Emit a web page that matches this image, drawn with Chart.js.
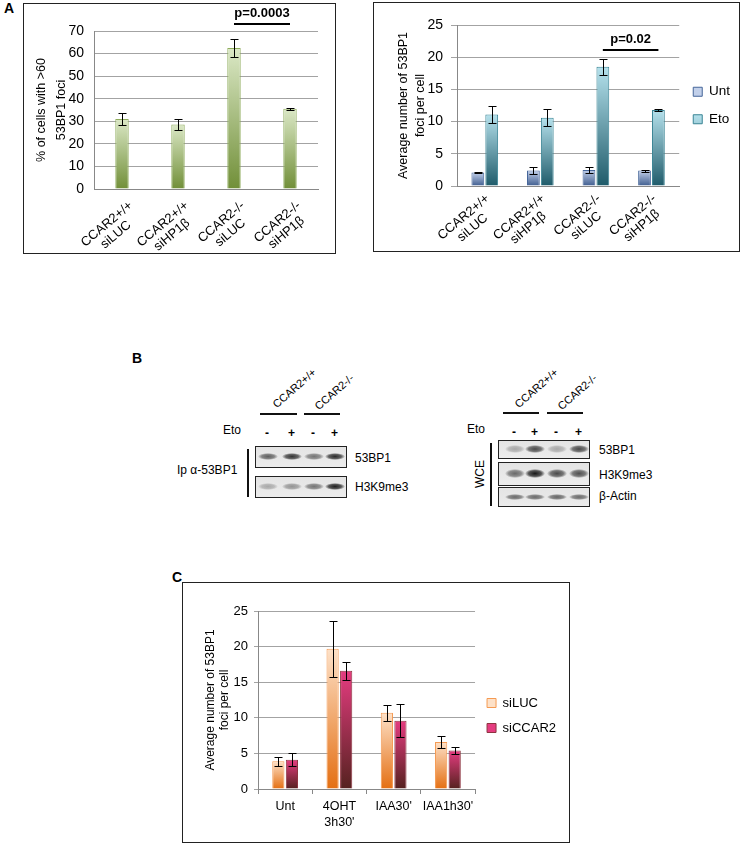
<!DOCTYPE html>
<html>
<head>
<meta charset="utf-8">
<script src="https://cdn.jsdelivr.net/npm/chart.js@4.4.1/dist/chart.umd.min.js"></script>
<style>
  body { margin: 0; width: 741px; height: 844px; background: #fff; position: relative; overflow: hidden;
         font-family: 'Liberation Sans', Arial, sans-serif; color: #000; }
  .abs { position: absolute; }
  .box { position: absolute; border: 1.5px solid #222; box-sizing: border-box; }
  .lbl { position: absolute; font-size: 12px; white-space: nowrap; line-height: 1; }
  .panel { position: absolute; font-weight: bold; font-size: 14px; }
  .rot { position: absolute; font-size: 11px; white-space: nowrap; line-height: 1;
         transform: rotate(-41deg); transform-origin: 0 100%; }
  .blot { position: absolute; border: 1.5px solid #222; box-sizing: border-box;
          background: linear-gradient(#e4e4e4, #ececec); overflow: hidden; }
  .band { position: absolute; border-radius: 50%; }
  .hline { position: absolute; height: 1.5px; background: #111; }
  .vline { position: absolute; width: 1.5px; background: #111; }
</style>
</head>
<body>
<div class="panel" style="left:4px;top:0px;">A</div>
<div class="panel" style="left:132px;top:350px;">B</div>
<div class="panel" style="left:172px;top:569px;">C</div>

<div class="box" style="left:23px;top:3px;width:313px;height:251px;"></div>
<canvas id="c1" class="abs" style="left:23px;top:3px;" width="313" height="251"></canvas>

<div class="box" style="left:373px;top:2px;width:367px;height:250px;"></div>
<canvas id="c2" class="abs" style="left:373px;top:2px;" width="367" height="250"></canvas>

<div class="box" style="left:182px;top:582px;width:388px;height:261px;"></div>
<canvas id="c3" class="abs" style="left:182px;top:582px;" width="388" height="261"></canvas>

<div id="blots"></div>

<script>
// ---- panel A, left: % of cells with >60 53BP1 foci
const groupsA = [['CCAR2+/+', 'siLUC'], ['CCAR2+/+', 'siHP1β'], ['CCAR2-/-', 'siLUC'], ['CCAR2-/-', 'siHP1β']];
const pctCells = [31, 28.6, 62.5, 35.5];
const pctCellsErr = [2.6, 2.3, 4.1, 0.5];

// ---- panel A, right: average foci per cell
const untFoci = [2.1, 2.4, 2.5, 2.4];
const untFociErr = [0.15, 0.5, 0.45, 0.15];
const etoFoci = [11.1, 10.6, 18.5, 11.8];
const etoFociErr = [1.3, 1.3, 1.2, 0.15];

// ---- panel C
const groupsC = ['Unt', ['4OHT', "3h30'"], "IAA30'", "IAA1h30'"];
const siLUC = [3.9, 19.7, 10.7, 6.6];
const siLUCErr = [0.6, 3.9, 1.1, 0.8];
const siCCAR2 = [4.1, 16.6, 9.6, 5.4];
const siCCAR2Err = [0.9, 1.3, 2.3, 0.5];

// ---- panel B band intensities (lanes: -, +, -, +)
const ip53bp1 = [0.65, 0.85, 0.55, 0.9];
const ipH3k9 = [0.3, 0.4, 0.55, 0.95];
const wce53bp1 = [0.3, 0.75, 0.3, 0.75];
const wceH3k9 = [0.6, 0.98, 0.75, 0.72];
const wceActin = [0.6, 0.6, 0.62, 0.6];

Chart.defaults.font.family = "'Liberation Sans', Arial, sans-serif";
Chart.defaults.color = '#000';

// gradient from the top of each bar down to its base
function barGrad(top, bottom, flat) {
  return (ctx) => {
    if (ctx.type !== 'data') return flat;
    const chart = ctx.chart, y = chart.scales.y;
    const v = ctx.parsed ? ctx.parsed.y : ctx.raw;
    const y0 = y.getPixelForValue(v), y1 = y.getPixelForValue(0);
    if (!isFinite(y0) || !isFinite(y1) || y0 === y1) return flat;
    const g = chart.ctx.createLinearGradient(0, y0, 0, y1);
    g.addColorStop(0, top);
    g.addColorStop(1, bottom);
    return g;
  };
}

const errorBars = {
  id: 'errorBars',
  afterDatasetsDraw(chart) {
    const c = chart.ctx, y = chart.scales.y;
    c.save();
    c.strokeStyle = '#000';
    c.lineWidth = 1;
    chart.data.datasets.forEach((ds, di) => {
      if (!ds.errors) return;
      chart.getDatasetMeta(di).data.forEach((bar, i) => {
        const v = ds.data[i], e = ds.errors[i];
        const x = Math.round(bar.x) + 0.5;
        const yt = Math.round(y.getPixelForValue(v + e)) + 0.5;
        const yb = Math.round(y.getPixelForValue(v - e)) + 0.5;
        const w = 4;
        c.beginPath();
        c.moveTo(x, yt); c.lineTo(x, yb);
        c.moveTo(x - w, yt); c.lineTo(x + w, yt);
        c.moveTo(x - w, yb); c.lineTo(x + w, yb);
        c.stroke();
      });
    });
    c.restore();
  }
};

const pBar = {
  id: 'pBar',
  afterDraw(chart, args, opts) {
    if (!opts || !opts.text) return;
    const meta = chart.getDatasetMeta(opts.dataset || 0);
    const x0 = meta.data[opts.from].x, x1 = meta.data[opts.to].x;
    const yy = chart.scales.y.getPixelForValue(opts.value);
    const c = chart.ctx;
    c.save();
    c.strokeStyle = '#000';
    c.lineWidth = 2;
    c.beginPath(); c.moveTo(x0, yy); c.lineTo(x1, yy); c.stroke();
    c.font = 'bold 13px "Liberation Sans", Arial, sans-serif';
    c.fillStyle = '#000';
    c.textAlign = 'center';
    c.textBaseline = 'bottom';
    c.fillText(opts.text, (x0 + x1) / 2, yy - 4);
    c.restore();
  }
};

// slanted two-line category labels, lines centred on each other like Excel does
const slantLabels = {
  id: 'slantLabels',
  afterDraw(chart, args, opts) {
    if (!opts || !opts.angle) return;
    const xs = chart.scales.x, c = chart.ctx;
    c.save();
    c.font = `${opts.size}px 'Liberation Sans', Arial, sans-serif`;
    c.fillStyle = '#000';
    c.textAlign = 'center';
    c.textBaseline = 'middle';
    chart.data.labels.forEach((lines, i) => {
      const w = Math.max(...lines.map(t => c.measureText(t).width));
      c.save();
      c.translate(xs.getPixelForTick(i) + opts.dx, xs.top + opts.dy);
      c.rotate(-opts.angle * Math.PI / 180);
      lines.forEach((t, j) => c.fillText(t, -w / 2, j * opts.lineHeight));
      c.restore();
    });
    c.restore();
  }
};

const gridGray = '#a3a3a3';

new Chart(document.getElementById('c1'), {
  type: 'bar',
  data: {
    labels: groupsA,
    datasets: [{
      data: pctCells,
      errors: pctCellsErr,
      backgroundColor: barGrad('#dbe8c6', '#718f38', '#a8c47a'),
      borderColor: '#8fac5c',
      borderWidth: 1,
      barPercentage: 0.24,
      categoryPercentage: 1
    }]
  },
  options: {
    responsive: false,
    animation: false,
    layout: { padding: { top: 28, right: 18, left: 0, bottom: 0 } },
    plugins: {
      legend: { display: false },
      tooltip: { enabled: false },
      pBar: { from: 2, to: 3, value: 73.1, text: 'p=0.0003' },
      slantLabels: { angle: 40, size: 13, dx: 9, dy: 15, lineHeight: 14 }
    },
    scales: {
      x: {
        grid: { drawOnChartArea: false, drawTicks: false },
        border: { color: '#888' },
        ticks: { display: false },
        afterFit: s => { s.height = 65; }
      },
      y: {
        min: 0, max: 70,
        ticks: { stepSize: 10, font: { size: 14 }, padding: 10 },
        grid: { color: gridGray, drawTicks: false },
        border: { color: '#888' },
        title: { display: true, text: ['% of cells with >60', '53BP1 foci'],
                 font: { size: 12.5, lineHeight: 1.55 }, padding: { top: 9, bottom: 0 } },
        afterFit: s => { s.width = 71; }
      }
    }
  },
  plugins: [errorBars, pBar, slantLabels]
});

new Chart(document.getElementById('c2'), {
  type: 'bar',
  data: {
    labels: groupsA,
    datasets: [{
      label: 'Unt',
      data: untFoci,
      errors: untFociErr,
      backgroundColor: barGrad('#c2d0ea', '#3f5d8f', '#7f97c4'),
      borderColor: '#46669a',
      borderWidth: 1,
      barPercentage: 0.92,
      categoryPercentage: 0.5
    }, {
      label: 'Eto',
      data: etoFoci,
      errors: etoFociErr,
      backgroundColor: barGrad('#b5e1ec', '#1f5b6a', '#8ccbdb'),
      borderColor: '#3a8595',
      borderWidth: 1,
      barPercentage: 0.92,
      categoryPercentage: 0.5
    }]
  },
  options: {
    responsive: false,
    animation: false,
    layout: { padding: { top: 23, right: 0, left: 0, bottom: 0 } },
    plugins: {
      legend: {
        position: 'right',
        align: 'start',
        title: { display: true, text: ' ', padding: 0, font: { size: 10, lineHeight: 4.6 } },
        labels: { boxWidth: 9, boxHeight: 9, font: { size: 13.5 }, padding: 14 }
      },
      tooltip: { enabled: false },
      pBar: { dataset: 1, from: 2, to: 3, value: 21.1, text: 'p=0.02' },
      slantLabels: { angle: 40, size: 13, dx: 3, dy: 11, lineHeight: 14 }
    },
    scales: {
      x: {
        grid: { drawOnChartArea: false, drawTicks: false },
        border: { color: '#888' },
        ticks: { display: false },
        afterFit: s => { s.height = 66; }
      },
      y: {
        min: 0, max: 25,
        ticks: { stepSize: 5, font: { size: 14 }, padding: 8 },
        grid: { color: gridGray, tickLength: 6 },
        border: { color: '#888' },
        title: { display: true, text: ['Average number of 53BP1', 'foci per cell'],
                 font: { size: 12.5, lineHeight: 1.35 }, padding: { top: 22, bottom: 0 } },
        afterFit: s => { s.width = 84; }
      }
    }
  },
  plugins: [errorBars, pBar, slantLabels]
});

new Chart(document.getElementById('c3'), {
  type: 'bar',
  data: {
    labels: groupsC,
    datasets: [{
      label: 'siLUC',
      data: siLUC,
      errors: siLUCErr,
      backgroundColor: barGrad('#fde1c8', '#e46f12', '#f8b47a'),
      borderColor: '#f59a52',
      borderWidth: 1,
      barPercentage: 0.9,
      categoryPercentage: 0.5
    }, {
      label: 'siCCAR2',
      data: siCCAR2,
      errors: siCCAR2Err,
      backgroundColor: barGrad('#e53c80', '#55221f', '#a23048'),
      borderColor: '#8e3440',
      borderWidth: 1,
      barPercentage: 0.9,
      categoryPercentage: 0.5
    }]
  },
  options: {
    responsive: false,
    animation: false,
    layout: { padding: { top: 29, right: 4, left: 0, bottom: 0 } },
    plugins: {
      legend: {
        position: 'right',
        align: 'start',
        title: { display: true, text: ' ', padding: 0, font: { size: 10, lineHeight: 7.35 } },
        labels: { boxWidth: 9, boxHeight: 9, font: { size: 13 }, padding: 12 }
      },
      tooltip: { enabled: false }
    },
    scales: {
      x: {
        grid: { offset: true, drawOnChartArea: false, drawTicks: true, tickLength: 5, color: '#888' },
        border: { color: '#888' },
        ticks: { maxRotation: 0, autoSkip: false, font: { size: 12.5, lineHeight: 1.3 }, padding: 4 },
        afterFit: s => { s.height = 54; }
      },
      y: {
        min: 0, max: 25,
        ticks: { stepSize: 5, font: { size: 13 }, padding: 6 },
        grid: { color: gridGray, tickLength: 4 },
        border: { color: '#888' },
        title: { display: true, text: ['Average number of 53BP1', 'foci per cell'],
                 font: { size: 12, lineHeight: 1.15 }, padding: { top: 22, bottom: 0 } },
        afterFit: s => { s.width = 76; }
      }
    }
  },
  plugins: [errorBars]
});

// ---- panel B western blots (decorative, built from the intensity lists)
const host = document.getElementById('blots');
function el(cls, style, text) {
  const d = document.createElement('div');
  d.className = cls;
  d.setAttribute('style', style);
  if (text) d.textContent = text;
  host.appendChild(d);
  return d;
}
function blotRow(x, y, w, h, lanes, vals, bandH) {
  const b = el('blot', `left:${x}px;top:${y}px;width:${w}px;height:${h}px;`);
  vals.forEach((a, i) => {
    const band = document.createElement('div');
    band.className = 'band';
    const bw = 20, bh = bandH || 7;
    band.setAttribute('style',
      `left:${lanes[i] - bw / 2}px;top:${(h - 3 - bh) / 2}px;width:${bw}px;height:${bh}px;` +
      `background:radial-gradient(ellipse at center, rgba(20,20,20,${a}) 0%, rgba(30,30,30,${a * 0.75}) 45%, rgba(60,60,60,0) 72%);`);
    b.appendChild(band);
  });
}

// left blot: IP
el('rot', 'left:278px;top:399px;', 'CCAR2+/+');
el('rot', 'left:320px;top:401px;', 'CCAR2-/-');
el('hline', 'left:260px;top:413px;width:37px;');
el('hline', 'left:304px;top:413px;width:36px;');
el('lbl', 'left:223px;top:424px;', 'Eto');
['-', '+', '-', '+'].forEach((s, i) => el('lbl', `left:${[265, 288, 311, 331][i]}px;top:427px;font-weight:bold;`, s));
const lanesL = [12, 36, 58, 79];
blotRow(255, 446, 92, 22, lanesL, ip53bp1);
blotRow(255, 476, 92, 22, lanesL, ipH3k9);
el('lbl', 'left:355px;top:452px;', '53BP1');
el('lbl', 'left:355px;top:481px;', 'H3K9me3');
el('vline', 'left:247px;top:449px;height:48px;');
el('lbl', 'left:177px;top:464px;', 'Ip α-53BP1');

// right blot: WCE
el('rot', 'left:520px;top:399px;', 'CCAR2+/+');
el('rot', 'left:563px;top:401px;', 'CCAR2-/-');
el('hline', 'left:503px;top:412px;width:36px;');
el('hline', 'left:547px;top:412px;width:36px;');
el('lbl', 'left:467px;top:423px;', 'Eto');
['-', '+', '-', '+'].forEach((s, i) => el('lbl', `left:${[512, 531, 554, 575][i]}px;top:426px;font-weight:bold;`, s));
const lanesR = [16, 36, 58, 80];
blotRow(498, 440, 92, 19, lanesR, wce53bp1, 8);
blotRow(498, 462, 92, 24, lanesR, wceH3k9, 9);
blotRow(498, 487, 92, 20, lanesR, wceActin, 6);
el('lbl', 'left:599px;top:444px;', '53BP1');
el('lbl', 'left:599px;top:469px;', 'H3K9me3');
el('lbl', 'left:599px;top:490px;', 'β-Actin');
el('vline', 'left:490px;top:443px;height:63px;');
el('lbl', 'left:466px;top:468px;transform:rotate(-90deg);transform-origin:center;', 'WCE');
</script>
</body>
</html>
